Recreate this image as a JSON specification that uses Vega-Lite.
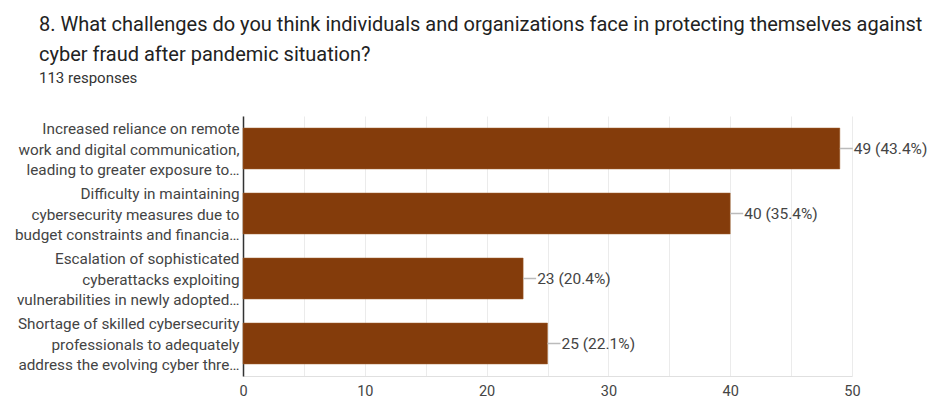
{
  "$schema": "https://vega.github.io/schema/vega-lite/v6.json",
  "width": 609,
  "height": 260,
  "autosize": {"type": "none"},
  "padding": {"left": 243, "top": 116, "right": 80, "bottom": 24},
  "background": "white",
  "title": {
    "text": ["8. What challenges do you think individuals and organizations face in protecting themselves against", "cyber fraud after pandemic situation?"],
    "subtitle": "113 responses",
    "anchor": "start",
    "frame": "group",
    "dx": -204,
    "font": "Roboto",
    "fontSize": 20,
    "fontWeight": "normal",
    "color": "#222222",
    "lineHeight": 30,
    "subtitleFont": "Roboto",
    "subtitleFontSize": 15,
    "subtitleColor": "#333333",
    "subtitlePadding": 6,
    "offset": 30
  },
  "data": {
    "values": [
      {"challenge": "Increased reliance on remote|work and digital communication,|leading to greater exposure to…", "count": 49, "label": "49 (43.4%)"},
      {"challenge": "Difficulty in maintaining|cybersecurity measures due to|budget constraints and financia…", "count": 40, "label": "40 (35.4%)"},
      {"challenge": "Escalation of sophisticated|cyberattacks exploiting|vulnerabilities in newly adopted…", "count": 23, "label": "23 (20.4%)"},
      {"challenge": "Shortage of skilled cybersecurity|professionals to adequately|address the evolving cyber thre…", "count": 25, "label": "25 (22.1%)"}
    ]
  },
  "encoding": {
    "y": {
      "field": "challenge",
      "type": "nominal",
      "sort": null,
      "title": null,
      "scale": {"paddingInner": 0.37, "paddingOuter": 0.185},
      "axis": {
        "labelExpr": "split(datum.label, '|')",
        "labelFont": "Roboto",
        "labelFontSize": 15.3,
        "labelColor": "#444444",
        "labelLimit": 300,
        "labelLineHeight": 20.5,
        "labelOffset": -19.5,
        "labelPadding": 4,
        "ticks": false,
        "domain": true,
        "domainColor": "#333333",
        "domainWidth": 1.5,
        "grid": false
      }
    }
  },
  "layer": [
    {
      "mark": {"type": "bar", "color": "#843c0b", "stroke": "#a0612f", "strokeWidth": 0.5},
      "encoding": {
        "x": {
          "field": "count",
          "type": "quantitative",
          "title": null,
          "scale": {"domain": [0, 50], "nice": false},
          "axis": {
            "values": [0, 5, 10, 15, 20, 25, 30, 35, 40, 45, 50],
            "labelExpr": "datum.value % 10 == 0 ? datum.label : ''",
            "labelFont": "Roboto",
            "labelFontSize": 14.5,
            "labelColor": "#444444",
            "labelPadding": 8,
            "ticks": false,
            "domain": true,
            "domainColor": "#e0e0e0",
            "grid": true,
            "gridColor": "#ebebeb",
            "labelFlush": false
          }
        }
      }
    },
    {
      "mark": {"type": "rule", "color": "#bbbbbb", "strokeWidth": 1.5, "x2Offset": 13},
      "encoding": {
        "x": {"field": "count", "type": "quantitative"},
        "x2": {"field": "count"}
      }
    },
    {
      "mark": {"type": "text", "align": "left", "baseline": "middle", "dx": 14, "font": "Roboto", "fontSize": 15.5, "color": "#444444"},
      "encoding": {
        "x": {"field": "count", "type": "quantitative"},
        "text": {"field": "label"}
      }
    }
  ],
  "config": {"view": {"stroke": null}}
}
